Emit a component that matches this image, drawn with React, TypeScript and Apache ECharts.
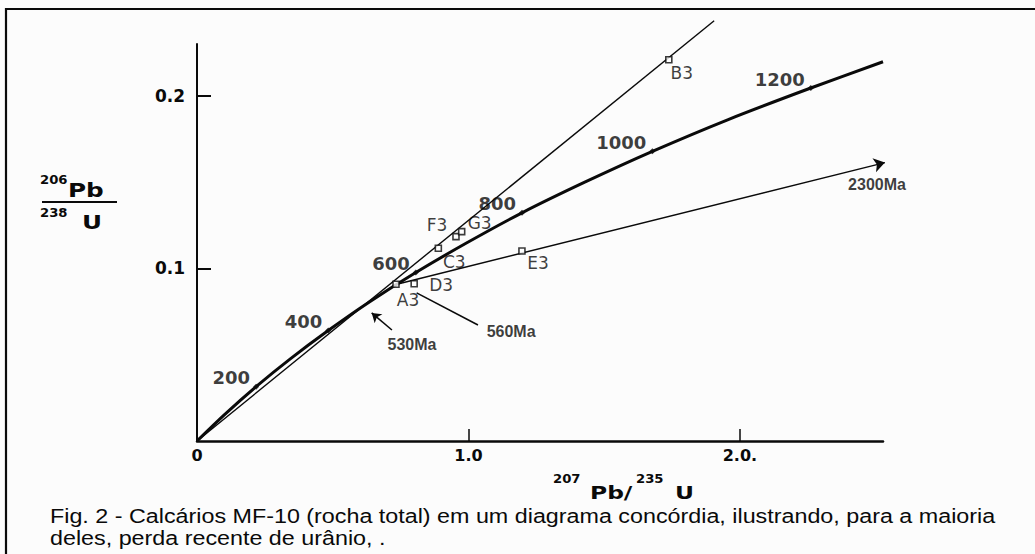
import React, { useEffect, useRef } from "react";
import * as echarts from "echarts";

// Concordia curve (207Pb/235U, 206Pb/238U)
const concordiaAges = [0, 100, 200, 300, 400, 500, 600, 700, 800, 900, 1000, 1100, 1200, 1280];
const concordiaX = [0, 0.1035, 0.2177, 0.3437, 0.4834, 0.6362, 0.806, 0.9925, 1.1971, 1.4264, 1.6775, 1.9546, 2.261, 2.527];
const concordiaY = [0, 0.0156, 0.0315, 0.0476, 0.064, 0.0807, 0.0976, 0.1147, 0.1322, 0.1498, 0.1678, 0.1861, 0.2045, 0.2197];

// Age marks labelled on the concordia
const ageLabels = ["200", "400", "600", "800", "1000", "1200"];
const ageX = [0.2177, 0.4834, 0.806, 1.1971, 1.6775, 2.261];
const ageY = [0.0315, 0.064, 0.0976, 0.1322, 0.1678, 0.2045];

// Samples
const sampleNames = ["A3", "B3", "C3", "D3", "E3", "F3", "G3"];
const sampleX = [0.733, 1.738, 0.889, 0.8, 1.197, 0.954, 0.975];
const sampleY = [0.0908, 0.2209, 0.1117, 0.0911, 0.1101, 0.1184, 0.1213];

// Chord through the origin
const chordX = [0, 1.905];
const chordY = [0, 0.2435];
// Discordia 560Ma -> 2300Ma
const discordiaX = [0.736, 2.534];
const discordiaY = [0.0908, 0.1613];
// Annotation pointers
const arrow530X = [0.718, 0.6435];
const arrow530Y = [0.0643, 0.0742];
const pointer560X = [0.809, 1.035];
const pointer560Y = [0.0858, 0.0672];
const noteNames = ["530Ma", "560Ma", "2300Ma"];
const noteX = [0.792, 1.157, 2.505];
const noteY = [0.0557, 0.0632, 0.1484];

// Ticks
const xTickValues = [0, 1, 2];
const xTickLabels = ["0", "1.0", "2.0."];
const yTickValues = [0.1, 0.2];
const yTickLabels = ["0.1", "0.2"];

const captionLines = [
  "Fig. 2 - Calcários MF-10 (rocha total) em um diagrama concórdia, ilustrando, para a maioria",
  "deles, perda recente de urânio, .",
];

const INK = "#0a0a0a";
const BOLD = "DejaVu Sans";

const sampleLabelOffsets: Record<string, [number, number]> = {
  A3: [12, 16],
  B3: [13, 13],
  C3: [16, 14],
  D3: [27, 1],
  E3: [16, 12],
  F3: [-19, -12],
  G3: [18, -9],
};

function pairs(xs: number[], ys: number[]) {
  return xs.map((x, i) => [x, ys[i]]);
}

export default function App() {
  const ref = useRef<HTMLDivElement>(null);

  useEffect(() => {
    if (!ref.current) return;
    const chart = echarts.init(ref.current, undefined, { renderer: "svg" });

    const xLabelFor = (v: number) => {
      const i = xTickValues.findIndex((t) => Math.abs(t - v) < 1e-9);
      return i >= 0 ? xTickLabels[i] : "";
    };
    const yLabelFor = (v: number) => {
      const i = yTickValues.findIndex((t) => Math.abs(t - v) < 1e-9);
      return i >= 0 ? yTickLabels[i] : "";
    };

    const txt = (
      text: string,
      x: number,
      y: number,
      size: number,
      family = BOLD,
      weight = "bold",
      scaleX = 1
    ) => ({
      type: "text",
      x,
      y,
      scaleX,
      style: {
        text,
        fill: INK,
        font: `${weight} ${size}px "${family}"`,
        align: "left",
        verticalAlign: "middle",
      },
    });

    const option: any = {
      animation: false,
      backgroundColor: "#fcfcfc",
      grid: { left: 197, top: 44, width: 686, height: 397, containLabel: false },
      xAxis: {
        type: "value",
        min: 0,
        max: 2.527,
        interval: 1,
        splitLine: { show: false },
        axisLine: { show: true, onZero: false, lineStyle: { color: INK, width: 2.5 } },
        axisTick: {
          show: true,
          inside: true,
          length: 12,
          customValues: [1, 2],
          lineStyle: { color: INK, width: 1.5 },
        },
        axisLabel: {
          customValues: xTickValues,
          formatter: (v: number) => xLabelFor(v),
          margin: 6,
          color: INK,
          fontFamily: BOLD,
          fontWeight: "bold",
          fontSize: 16,
        },
      },
      yAxis: {
        type: "value",
        min: 0,
        max: 0.23,
        interval: 0.1,
        splitLine: { show: false },
        axisLine: { show: true, onZero: false, lineStyle: { color: INK, width: 2 } },
        axisTick: {
          show: true,
          inside: true,
          length: 14,
          customValues: yTickValues,
          lineStyle: { color: INK, width: 2 },
        },
        axisLabel: {
          customValues: yTickValues,
          formatter: (v: number) => yLabelFor(v),
          margin: 12,
          color: INK,
          fontFamily: BOLD,
          fontWeight: "bold",
          fontSize: 17,
        },
      },
      series: [
        {
          name: "concordia",
          type: "line",
          data: pairs(concordiaX, concordiaY),
          smooth: 0.3,
          symbol: "none",
          clip: false,
          lineStyle: { color: INK, width: 3 },
          z: 3,
        },
        {
          name: "chord",
          type: "line",
          data: pairs(chordX, chordY),
          symbol: "none",
          clip: false,
          lineStyle: { color: INK, width: 1.4 },
          z: 2,
        },
        {
          name: "discordia",
          type: "lines",
          coordinateSystem: "cartesian2d",
          clip: false,
          symbol: ["none", "arrow"],
          symbolSize: 11,
          lineStyle: { color: INK, width: 1.4, opacity: 1 },
          data: [{ coords: pairs(discordiaX, discordiaY) }],
          z: 2,
        },
        {
          name: "arrow530",
          type: "lines",
          coordinateSystem: "cartesian2d",
          symbol: ["none", "arrow"],
          symbolSize: 9,
          lineStyle: { color: INK, width: 1.6, opacity: 1 },
          data: [{ coords: pairs(arrow530X, arrow530Y) }],
          z: 2,
        },
        {
          name: "pointer560",
          type: "lines",
          coordinateSystem: "cartesian2d",
          symbol: ["none", "none"],
          lineStyle: { color: INK, width: 1.6, opacity: 1 },
          data: [{ coords: pairs(pointer560X, pointer560Y) }],
          z: 2,
        },
        {
          name: "ages",
          type: "scatter",
          symbol: "diamond",
          symbolSize: 6,
          itemStyle: { color: INK },
          data: ageLabels.map((a, i) => ({ name: a, value: [ageX[i], ageY[i]] })),
          label: {
            show: true,
            formatter: (p: any) => p.name,
            position: "left",
            distance: 0,
            offset: [-3, -9],
            color: INK,
            fontFamily: BOLD,
            fontWeight: "bold",
            fontSize: 18,
          },
          z: 4,
        },
        {
          name: "samples",
          type: "scatter",
          symbol: "rect",
          symbolSize: 6,
          itemStyle: { color: "#ffffff", borderColor: INK, borderWidth: 1.6 },
          data: sampleNames.map((n, i) => ({
            name: n,
            value: [sampleX[i], sampleY[i]],
            label: { offset: sampleLabelOffsets[n] },
          })),
          label: {
            show: true,
            formatter: (p: any) => p.name,
            position: "inside",
            align: "center",
            verticalAlign: "middle",
            color: INK,
            fontFamily: "DejaVu Sans",
            fontSize: 17,
          },
          z: 5,
        },
        {
          name: "notes",
          type: "scatter",
          symbolSize: 0,
          silent: true,
          data: noteNames.map((n, i) => ({ name: n, value: [noteX[i], noteY[i]] })),
          label: {
            show: true,
            formatter: (p: any) => p.name,
            position: "inside",
            align: "center",
            verticalAlign: "middle",
            color: INK,
            fontFamily: "Liberation Sans",
            fontWeight: "bold",
            fontSize: 16,
          },
          z: 5,
        },
      ],
      graphic: [
        {
          type: "rect",
          shape: { x: 6, y: 9, width: 1060, height: 580 },
          style: { fill: "none", stroke: INK, lineWidth: 2.2 },
          silent: true,
        },
        // y-axis title: 206Pb / 238U
        txt("206", 40, 180, 12, BOLD, "bold", 1.1),
        txt("Pb", 68, 191, 19, BOLD, "bold", 1.3),
        {
          type: "line",
          shape: { x1: 42, y1: 202, x2: 117, y2: 202 },
          style: { stroke: INK, lineWidth: 2 },
        },
        txt("238", 40, 213, 12, BOLD, "bold", 1.1),
        txt("U", 82, 223, 19, BOLD, "bold", 1.3),
        // x-axis title: 207Pb/235U
        txt("207", 553, 479, 12, BOLD, "bold", 1.1),
        txt("Pb/", 590, 493, 18, BOLD, "bold", 1.3),
        txt("235", 636, 479, 12, BOLD, "bold", 1.1),
        txt("U", 675, 493, 18, BOLD, "bold", 1.3),
        // caption
        txt(captionLines[0], 50, 516, 21, "Liberation Sans", "normal", 1.11),
        txt(captionLines[1], 50, 538, 21, "Liberation Sans", "normal", 1.11),
      ],
    };

    chart.setOption(option);
    return () => chart.dispose();
  }, []);

  return (
    <div
      ref={ref}
      style={{ position: "fixed", left: 0, top: 0, width: 1035, height: 554, background: "#fcfcfc" }}
    />
  );
}
